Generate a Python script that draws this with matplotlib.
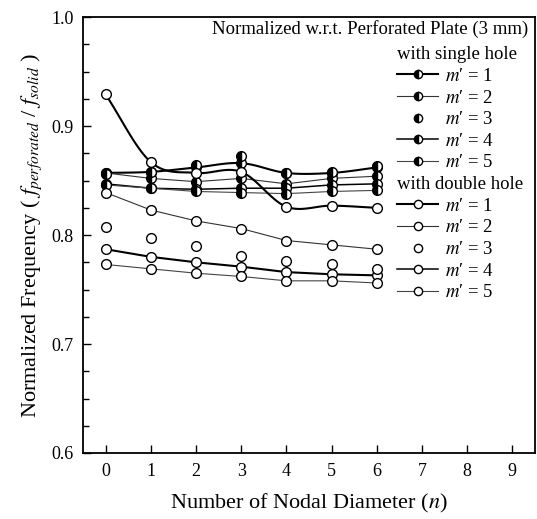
import numpy as np
import matplotlib
matplotlib.use("Agg")
import matplotlib.pyplot as plt
from matplotlib.lines import Line2D
from matplotlib.ticker import MultipleLocator

plt.rcParams['font.family'] = ['Liberation Serif', 'DejaVu Serif']
plt.rcParams['mathtext.fontset'] = 'stix'

# ---------------- data ----------------
n = [0, 1, 2, 3, 4, 5, 6]
xticks = [0, 1, 2, 3, 4, 5, 6, 7, 8, 9]

single_m1 = [0.857, 0.858, 0.862, 0.866, 0.857, 0.857, 0.862]
single_m2 = [0.857, 0.852, 0.849, 0.852, 0.847, 0.852, 0.854]
single_m3 = [0.856, 0.858, 0.864, 0.873, 0.857, 0.858, 0.863]
single_m4 = [0.847, 0.843, 0.842, 0.843, 0.843, 0.846, 0.847]
single_m5 = [0.846, 0.843, 0.840, 0.839, 0.838, 0.840, 0.841]

double_m1 = [0.787, 0.780, 0.775, 0.771, 0.766, 0.764, 0.763]
double_m2 = [0.839, 0.823, 0.813, 0.806, 0.795, 0.791, 0.787]
double_m3 = [0.807, 0.797, 0.790, 0.781, 0.776, 0.773, 0.769]
double_m4 = [0.929, 0.867, 0.857, 0.858, 0.826, 0.827, 0.825]
double_m5 = [0.773, 0.769, 0.765, 0.762, 0.758, 0.758, 0.756]

labels = ["$m$\u2032 = 1", "$m$\u2032 = 2", "$m$\u2032 = 3", "$m$\u2032 = 4", "$m$\u2032 = 5"]


def smooth(x, y, k=20):
    """Catmull-Rom curve through the given points (for drawing only)."""
    x = np.asarray(x, float)
    y = np.asarray(y, float)
    px = np.concatenate([[2 * x[0] - x[1]], x, [2 * x[-1] - x[-2]]])
    py = np.concatenate([[2 * y[0] - y[1]], y, [2 * y[-1] - y[-2]]])
    xs, ys = [], []
    t = np.linspace(0, 1, k, endpoint=False)
    for i in range(1, len(px) - 2):
        for P, out in ((px, xs), (py, ys)):
            p0, p1, p2, p3 = P[i - 1], P[i], P[i + 1], P[i + 2]
            out.extend(0.5 * ((2 * p1) + (-p0 + p2) * t
                              + (2 * p0 - 5 * p1 + 4 * p2 - p3) * t ** 2
                              + (-p0 + 3 * p1 - 3 * p2 + p3) * t ** 3))
    xs.append(x[-1]); ys.append(y[-1])
    return np.array(xs), np.array(ys)


fig = plt.figure(figsize=(5.37, 5.19), dpi=100)
ax = fig.add_axes([0.1546, 0.1272, 0.996 - 0.1546, 0.967 - 0.1272])

ms = 7
half = dict(marker='o', markersize=ms, fillstyle='left', markerfacecolor='black',
            markerfacecoloralt='white', markeredgecolor='black', markeredgewidth=1.0)
openm = dict(marker='o', markersize=ms, markerfacecolor='white',
             markeredgecolor='black', markeredgewidth=1.0)

line_styles = [
    dict(lw=1.5, color='black', ls='-'),
    dict(lw=0.8, color='#333333', ls='-'),
    None,
    dict(lw=1.1, color='black', ls='-'),
    dict(lw=0.8, color='#444444', ls='-'),
]

single = [single_m1, single_m2, single_m3, single_m4, single_m5]
double = [double_m1, double_m2, double_m3, double_m4, double_m5]

# curves
for i, y in enumerate(single):
    st = line_styles[i]
    if st is None:
        continue
    if i == 0:
        xs, ys = smooth(n, y)
        ax.plot(xs, ys, zorder=2, **st)
    else:
        ax.plot(n, y, zorder=2, **st)
for i, y in enumerate(double):
    st = line_styles[i]
    if st is None:
        continue
    if i == 3:
        xs, ys = smooth(n, y)
        ax.plot(xs, ys, zorder=2, lw=1.5, color='black')
    else:
        ax.plot(n, y, zorder=2, **st)
# markers
for y in single:
    ax.plot(n, y, ls='none', zorder=3, **half)
for y in double:
    ax.plot(n, y, ls='none', zorder=3, **openm)

ax.set_xlim(-0.5, 9.5)
ax.set_ylim(0.6, 1.0)
ax.set_xticks(xticks)
ax.set_yticks([0.6, 0.7, 0.8, 0.9, 1.0])
ax.set_yticklabels(['0.6', '0.7', '0.8', '0.9', '1.0'])
ax.yaxis.set_minor_locator(MultipleLocator(0.025))
ax.tick_params(axis='both', which='both', direction='in', top=False, right=False,
               labelsize=13, width=1.0)
ax.tick_params(axis='both', which='major', length=6, pad=7)
ax.tick_params(axis='y', which='minor', length=4)
for s in ax.spines.values():
    s.set_linewidth(1.3)

ax.set_xlabel("Number of Nodal Diameter ($n$)", fontsize=16, labelpad=9)
ax.set_ylabel("Normalized Frequency ( $f_{perforated}$ / $f_{solid}$ )", fontsize=16, labelpad=5)

ax.text(0.985, 0.993, "Normalized w.r.t. Perforated Plate (3 mm)", transform=ax.transAxes,
        ha='right', va='top', fontsize=13.5)


def handles(mk):
    hs = []
    for i in range(5):
        st = line_styles[i]
        if st is None:
            hs.append(Line2D([], [], ls='none', **mk))
        else:
            hs.append(Line2D([], [], **st, **mk))
    return hs

leg_kw = dict(frameon=False, fontsize=13.5, handlelength=2.2, handletextpad=0.35,
              labelspacing=0.24, borderpad=0, borderaxespad=0, markerscale=0.85,
              title_fontsize=13.5)
l1 = ax.legend(handles(half), labels, loc='upper left', bbox_to_anchor=(0.695, 0.933),
               title="with single hole", **leg_kw)
l1._legend_box.align = 'left'
ax.add_artist(l1)
l2 = ax.legend(handles(openm), labels, loc='upper left', bbox_to_anchor=(0.695, 0.635),
               title="with double hole", **leg_kw)
l2._legend_box.align = 'left'

fig.savefig("out.png", dpi=100)
